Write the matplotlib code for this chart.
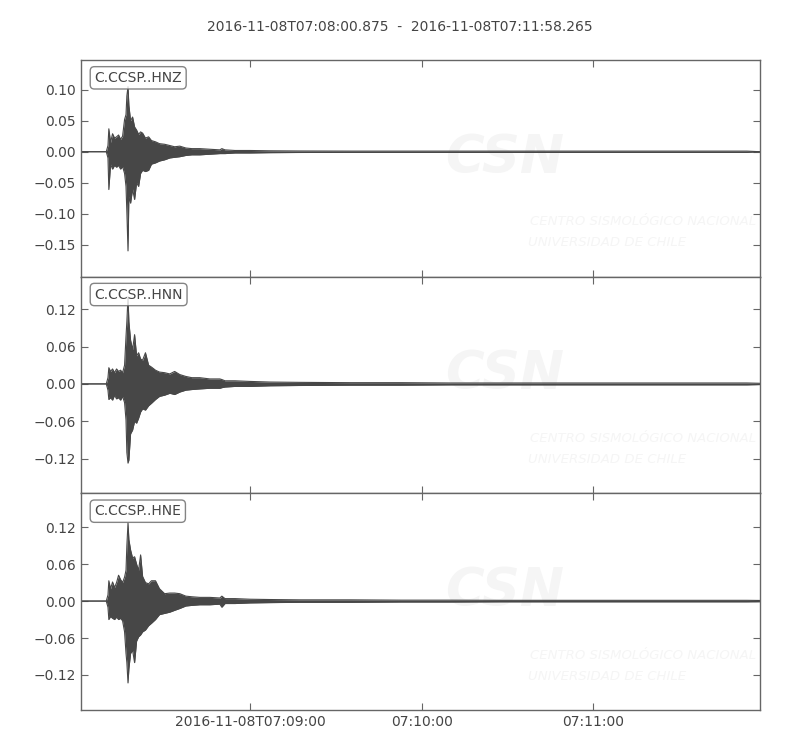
import datetime
import numpy as np
import matplotlib
matplotlib.use("Agg")
import matplotlib.pyplot as plt
import matplotlib.dates as mdates

# --- data (seconds after start, envelope max / min per trace) ---
start = datetime.datetime(2016, 11, 8, 7, 8, 0, 875000)
end = datetime.datetime(2016, 11, 8, 7, 11, 58, 265000)
title = "2016-11-08T07:08:00.875  -  2016-11-08T07:11:58.265"

t_sec = [0.0, 8.9, 9.5, 9.8, 10.4, 11.1, 11.8, 12.5, 13.2, 13.9, 14.6, 15.3, 15.8,
         16.1, 16.5, 16.8, 17.4, 18.1, 18.8, 19.5, 20.2, 20.9, 21.6, 22.6, 23.7,
         24.7, 26.1, 27.5, 29.3, 31.1, 32.8, 34.6, 36.7, 38.8, 41.6, 45.1, 48.6,
         49.3, 50.4, 53.9, 59.1, 66.1, 76.7, 94.2, 111.8, 129.3, 146.8, 164.4,
         181.9, 199.5, 217.0, 232.8, 237.4]

hnz_hi = [0, 0, 0.010, 0.037, 0.015, 0.029, 0.022, 0.024, 0.027, 0.020, 0.025, 0.052,
          0.060, 0.090, 0.105, 0.075, 0.050, 0.056, 0.040, 0.035, 0.028, 0.032, 0.030,
          0.022, 0.024, 0.018, 0.016, 0.013, 0.012, 0.010, 0.008, 0.009, 0.006, 0.005,
          0.005, 0.004, 0.003, 0.005, 0.003, 0.002, 0.002, 0.0015, 0.0012, 0.001, 0.001,
          0.001, 0.001, 0.001, 0.001, 0.001, 0.001, 0.001, 0.0]
hnz_lo = [0, 0, -0.010, -0.061, -0.020, -0.028, -0.022, -0.025, -0.022, -0.028, -0.024,
          -0.035, -0.056, -0.097, -0.160, -0.072, -0.083, -0.060, -0.077, -0.050,
          -0.056, -0.035, -0.030, -0.032, -0.030, -0.020, -0.018, -0.015, -0.013,
          -0.010, -0.009, -0.008, -0.006, -0.005, -0.005, -0.004, -0.003, -0.003,
          -0.003, -0.002, -0.002, -0.0015, -0.0012, -0.001, -0.001, -0.001, -0.001,
          -0.001, -0.001, -0.001, -0.001, -0.001, 0.0]

hnn_hi = [0, 0, 0.010, 0.026, 0.020, 0.024, 0.018, 0.024, 0.020, 0.022, 0.018, 0.030,
          0.076, 0.100, 0.140, 0.100, 0.070, 0.055, 0.079, 0.045, 0.050, 0.040, 0.038,
          0.050, 0.030, 0.027, 0.022, 0.019, 0.018, 0.016, 0.020, 0.015, 0.012, 0.010,
          0.010, 0.008, 0.008, 0.007, 0.005, 0.005, 0.004, 0.003, 0.0025, 0.002, 0.002,
          0.0015, 0.0015, 0.0015, 0.0015, 0.0015, 0.0015, 0.0015, 0.001]
hnn_lo = [0, 0, -0.010, -0.025, -0.022, -0.026, -0.018, -0.024, -0.022, -0.026, -0.020,
          -0.030, -0.058, -0.110, -0.127, -0.122, -0.080, -0.074, -0.060, -0.063,
          -0.055, -0.045, -0.040, -0.042, -0.035, -0.031, -0.025, -0.020, -0.018,
          -0.015, -0.017, -0.013, -0.010, -0.009, -0.008, -0.007, -0.007, -0.006,
          -0.005, -0.004, -0.004, -0.003, -0.0025, -0.002, -0.002, -0.0015, -0.0015,
          -0.0015, -0.0015, -0.0015, -0.0015, -0.0015, -0.001]

hne_hi = [0, 0, 0.010, 0.033, 0.020, 0.031, 0.022, 0.030, 0.042, 0.035, 0.030, 0.039,
          0.050, 0.090, 0.127, 0.100, 0.083, 0.070, 0.072, 0.060, 0.050, 0.075, 0.040,
          0.030, 0.028, 0.033, 0.033, 0.020, 0.012, 0.013, 0.013, 0.012, 0.008, 0.007,
          0.006, 0.006, 0.005, 0.008, 0.004, 0.004, 0.003, 0.0025, 0.002, 0.002, 0.0015,
          0.0015, 0.0012, 0.0012, 0.0012, 0.0012, 0.0012, 0.0012, 0.001]
hne_lo = [0, 0, -0.010, -0.030, -0.025, -0.028, -0.030, -0.026, -0.030, -0.028, -0.032,
          -0.050, -0.085, -0.100, -0.133, -0.110, -0.085, -0.080, -0.100, -0.065,
          -0.058, -0.055, -0.050, -0.047, -0.040, -0.036, -0.030, -0.022, -0.020,
          -0.018, -0.015, -0.012, -0.008, -0.007, -0.006, -0.006, -0.005, -0.010,
          -0.004, -0.004, -0.003, -0.0025, -0.002, -0.002, -0.0015, -0.0015, -0.0012,
          -0.0012, -0.0012, -0.0012, -0.0012, -0.0012, -0.001]

labels = ["C.CCSP..HNZ", "C.CCSP..HNN", "C.CCSP..HNE"]
highs = [hnz_hi, hnn_hi, hne_hi]
lows = [hnz_lo, hnn_lo, hne_lo]
ylims = [(-0.2016, 0.148), (-0.1755, 0.172), (-0.177, 0.175)]
yticks = [[0.10, 0.05, 0.00, -0.05, -0.10, -0.15],
          [0.12, 0.06, 0.00, -0.06, -0.12],
          [0.12, 0.06, 0.00, -0.06, -0.12]]
xtick_times = [datetime.datetime(2016, 11, 8, 7, 9), datetime.datetime(2016, 11, 8, 7, 10),
               datetime.datetime(2016, 11, 8, 7, 11)]
xtick_labels = ["2016-11-08T07:09:00", "07:10:00", "07:11:00"]

trace_color = "#474747"
text_color = "#444444"
spine_color = "#666666"
mark_color = "#f5f5f5"

plt.rcParams["font.family"] = ["DejaVu Sans"]
plt.rcParams["font.size"] = 10

fig = plt.figure(figsize=(8, 7.5), dpi=100)
fig.subplots_adjust(left=0.101, right=0.95, top=0.92, bottom=0.0533, hspace=0)
axes = [fig.add_subplot(3, 1, i + 1) for i in range(3)]

times = [start + datetime.timedelta(seconds=s) for s in t_sec]
x = mdates.date2num(times)

for i, ax in enumerate(axes):
    hi = np.array(highs[i])
    lo = np.array(lows[i])
    ax.fill_between(x, lo, hi, color=trace_color, lw=0, zorder=2)
    ax.plot(x, hi, color=trace_color, lw=0.8, zorder=2)
    ax.plot(x, lo, color=trace_color, lw=0.8, zorder=2)

    ax.set_xlim(mdates.date2num(start), mdates.date2num(end))
    ax.set_ylim(*ylims[i])
    ax.set_yticks(yticks[i])
    ax.set_yticklabels(["%.2f" % v if v >= 0 else "\u2212%.2f" % -v for v in yticks[i]])
    ax.set_xticks(mdates.date2num(xtick_times))
    if i == 2:
        ax.set_xticklabels(xtick_labels)
    else:
        ax.set_xticklabels([])

    ax.tick_params(direction="in", top=True, right=True, length=5, width=0.8,
                   colors=spine_color, labelcolor=text_color, labelsize=10)
    for sp in ax.spines.values():
        sp.set_color(spine_color)
        sp.set_linewidth(1.0)

    # faint CSN watermark
    ax.text(0.624, 0.55, "CSN", transform=ax.transAxes, fontsize=38, fontweight="bold",
            fontstyle="italic", color=mark_color, ha="center", va="center", zorder=0,
            clip_on=True)
    ax.text(0.662, 0.253, "CENTRO SISMOLÓGICO NACIONAL", transform=ax.transAxes,
            fontsize=9.5, fontstyle="italic", color=mark_color, ha="left", va="center",
            zorder=0, clip_on=True)
    ax.text(0.659, 0.157, "UNIVERSIDAD DE CHILE", transform=ax.transAxes,
            fontsize=9.5, fontstyle="italic", color=mark_color, ha="left", va="center",
            zorder=0, clip_on=True)

    ax.text(0.02, 0.95, labels[i], transform=ax.transAxes, va="top", ha="left",
            fontsize=10, color=text_color, zorder=5,
            bbox=dict(boxstyle="round", fc="w", ec=spine_color, alpha=0.8))

fig.suptitle(title, y=0.973, fontsize=10, color=text_color)

fig.savefig("out.png", dpi=100)
